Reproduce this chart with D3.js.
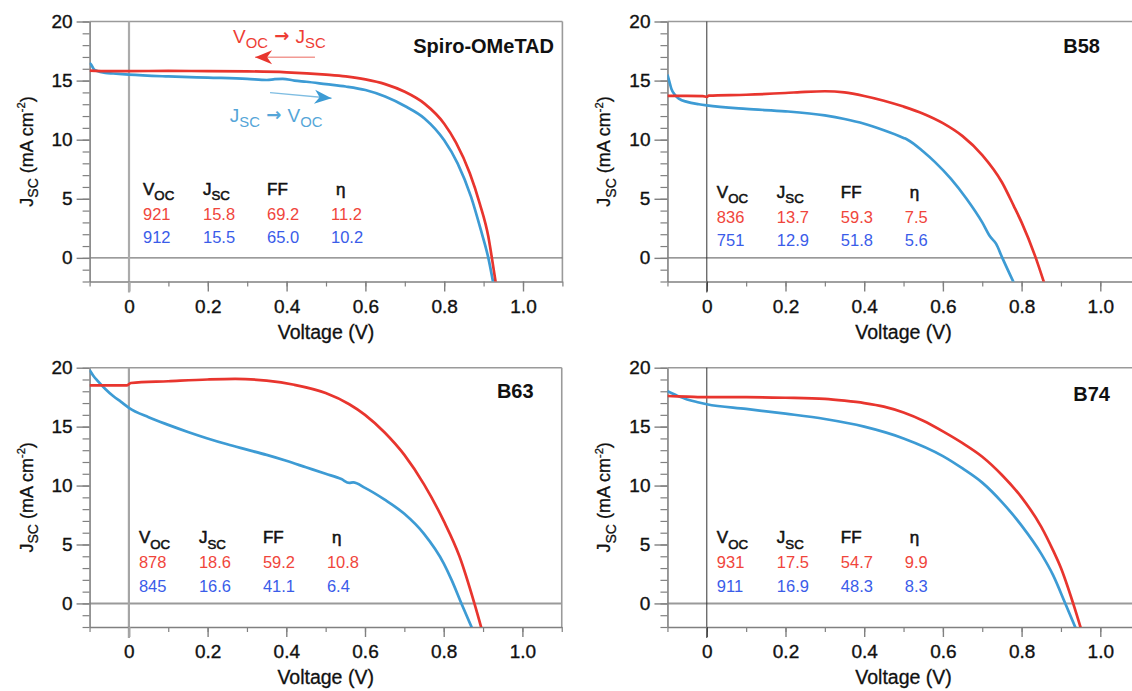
<!DOCTYPE html>
<html>
<head>
<meta charset="utf-8">
<script src="https://cdn.jsdelivr.net/npm/d3@7"></script>
<style>
  html, body { margin: 0; padding: 0; background: #fff; }
  svg { display: block; font-family: "Liberation Sans", Arial, Helvetica, sans-serif; }
  text { white-space: pre; }
</style>
</head>
<body>
<svg id="chart" width="1132" height="691"></svg>
<script>
// J–V sweeps, each point is [voltage (V), current density (mA cm^-2)].
// "reverse" = Voc -> Jsc scan (red), "forward" = Jsc -> Voc scan (blue).
const spiroReverse = [[-0.1,15.85],[-0.05,15.8],[0,15.8],[0.1,15.82],[0.2,15.8],[0.3,15.78],[0.4,15.7],[0.5,15.5],[0.55,15.35],[0.6,15.1],[0.65,14.7],[0.7,14.05],[0.75,13.05],[0.8,11.35],[0.83,9.75],[0.865,7.16],[0.89,4.62],[0.912,1.8],[0.921,0],[0.935,-3]];
const spiroForward = [[-0.1,16.5],[-0.095,16.3],[-0.09,16.0],[-0.08,15.8],[-0.06,15.65],[-0.04,15.6],[0,15.5],[0.1,15.35],[0.2,15.25],[0.3,15.15],[0.35,15.05],[0.37,15.12],[0.39,15.15],[0.42,15.0],[0.45,14.9],[0.5,14.7],[0.55,14.5],[0.6,14.2],[0.65,13.65],[0.7,12.85],[0.75,11.8],[0.8,9.95],[0.834,8.0],[0.868,5.18],[0.893,2.36],[0.912,0],[0.926,-2.4]];

const b58Reverse = [[-0.1,13.7],[-0.05,13.7],[-0.01,13.68],[0,13.62],[0.005,13.72],[0.1,13.8],[0.2,13.95],[0.25,14.05],[0.3,14.1],[0.35,14.0],[0.4,13.7],[0.45,13.3],[0.5,12.8],[0.55,12.2],[0.6,11.4],[0.65,10.3],[0.7,8.7],[0.75,6.4],[0.78,4.4],[0.8,3.0],[0.836,0],[0.862,-2.6]];
const b58Forward = [[-0.1,15.5],[-0.095,14.9],[-0.09,14.3],[-0.08,13.75],[-0.07,13.45],[-0.05,13.2],[-0.02,13.0],[0,12.9],[0.1,12.6],[0.2,12.4],[0.3,12.05],[0.35,11.75],[0.4,11.35],[0.45,10.8],[0.5,10.15],[0.51,10.0],[0.55,9.0],[0.58,8.1],[0.62,6.7],[0.66,5.0],[0.7,3.0],[0.72,1.8],[0.735,1.2],[0.751,0],[0.79,-2.8]];

const b63Reverse = [[-0.1,18.5],[-0.05,18.5],[-0.005,18.5],[0,18.6],[0.005,18.7],[0.1,18.85],[0.2,19.0],[0.27,19.05],[0.35,18.9],[0.42,18.55],[0.5,17.85],[0.56,16.9],[0.6,16.0],[0.65,14.5],[0.7,12.6],[0.75,10.1],[0.8,7.0],[0.84,4.0],[0.878,0],[0.9,-2.6]];
const b63Forward = [[-0.1,19.8],[-0.09,19.3],[-0.08,18.9],[-0.06,18.2],[-0.04,17.6],[-0.02,17.1],[0,16.6],[0.05,15.8],[0.1,15.15],[0.15,14.55],[0.2,14.0],[0.25,13.5],[0.3,13.05],[0.35,12.6],[0.4,12.1],[0.45,11.55],[0.5,11.0],[0.54,10.55],[0.56,10.22],[0.57,10.27],[0.6,9.8],[0.65,8.8],[0.7,7.6],[0.75,5.9],[0.8,3.4],[0.82,2.0],[0.845,0],[0.872,-2.1]];

const b74Reverse = [[-0.1,17.6],[-0.05,17.55],[0,17.5],[0.1,17.5],[0.2,17.45],[0.3,17.35],[0.35,17.2],[0.4,17.0],[0.45,16.7],[0.5,16.2],[0.55,15.5],[0.6,14.6],[0.65,13.6],[0.7,12.45],[0.75,10.9],[0.8,9.0],[0.85,6.5],[0.88,4.5],[0.9,3.0],[0.931,0],[0.955,-2.6]];
const b74Forward = [[-0.1,18.0],[-0.08,17.7],[-0.05,17.3],[-0.02,17.05],[0,16.9],[0.1,16.5],[0.2,16.1],[0.3,15.65],[0.4,15.0],[0.5,14.0],[0.6,12.5],[0.65,11.45],[0.7,10.25],[0.75,8.6],[0.8,6.6],[0.85,4.2],[0.88,2.4],[0.911,0],[0.94,-2.3]];

// Device parameters: Voc (mV), Jsc (mA cm^-2), FF (%), efficiency (%)
const statHeaders = ["V_{OC}", "J_{SC}", "FF", "η"];
const spiroStats = [[921, 15.8, 69.2, 11.2], [912, 15.5, 65.0, 10.2]];
const b58Stats   = [[836, 13.7, 59.3, 7.5],  [751, 12.9, 51.8, 5.6]];
const b63Stats   = [[878, 18.6, 59.2, 10.8], [845, 16.6, 41.1, 6.4]];
const b74Stats   = [[931, 17.5, 54.7, 9.9],  [911, 16.9, 48.3, 8.3]];

const panelNames = ["Spiro-OMeTAD", "B58", "B63", "B74"];

const xTicks = [0, 0.2, 0.4, 0.6, 0.8, 1.0];
const xTickLabels = ["0", "0.2", "0.4", "0.6", "0.8", "1.0"];
const yTicks = [0, 5, 10, 15, 20];
const yTickLabels = ["0", "5", "10", "15", "20"];

// Scan-direction annotations (data coordinates) for the first panel
const scanNotes = [
  { text: "V_{OC}~{ → }J_{SC}", at: [0.264, 18.2], arrowFrom: [0.472, 16.97], arrowTo: [0.32, 16.97], kind: "reverse" },
  { text: "J_{SC}~{ → }V_{OC}", at: [0.256, 11.52], arrowFrom: [0.358, 13.98], arrowTo: [0.514, 13.5], kind: "forward" }
];

const panels = [
  { name: panelNames[0], reverse: spiroReverse, forward: spiroForward, stats: spiroStats, notes: scanNotes },
  { name: panelNames[1], reverse: b58Reverse,   forward: b58Forward,   stats: b58Stats,   notes: [] },
  { name: panelNames[2], reverse: b63Reverse,   forward: b63Forward,   stats: b63Stats,   notes: [] },
  { name: panelNames[3], reverse: b74Reverse,   forward: b74Forward,   stats: b74Stats,   notes: [] }
];

// ---- layout & style ----
const layout = [
  { x0: 129,   kx: 394,   yTop: 21.5,  yBot: 281.5, titleRight: 554,  titleY: 53,  statDx: 4, statDy: -3,
    zeroV: ["#ababab", 2.2], zeroJ: ["#7a7a7a", 1.4] },
  { x0: 706.8, kx: 393.5, yTop: 21.5,  yBot: 281.5, titleRight: 1100, titleY: 53,  statDx: 0, statDy: 0,
    zeroV: ["#333", 1], zeroJ: ["#777", 1.4] },
  { x0: 128.9, kx: 393.5, yTop: 367.7, yBot: 627,   titleRight: 533.6, titleY: 398, statDx: 0, statDy: 0,
    zeroV: ["#a5a5a5", 2.2], zeroJ: ["#9a9a9a", 2] },
  { x0: 706.8, kx: 393.5, yTop: 367.7, yBot: 627,   titleRight: 1110, titleY: 401, statDx: 0, statDy: 0,
    zeroV: ["#333", 1], zeroJ: ["#9a9a9a", 2] }
];
const statCols = [10, 70, 134, 198];
const headerCols = [10, 70, 134, 203];
const statRows = [-60, -35, -11.5];

const RED = "#e8352e", BLUE = "#3d9bd4";
const RED_TXT = "#f0453b", BLUE_TXT = "#3a5ce9";
const AXIS = "#808080";
const INK = "#111";
const fmtV = d3.format("d"), fmt1 = d3.format(".1f");

// text with _{sub}, ^{sup} and ~{raised arrow} segments
function rich(sel, str, size) {
  const parts = str.split(/(_\{[^}]*\}|\^\{[^}]*\}|~\{[^}]*\})/).filter(s => s.length);
  let shift = 0;
  parts.forEach(p => {
    let t = p, dy = 0, fs = null, fw = null;
    if (p.startsWith("_{")) { t = p.slice(2, -1); dy = size * 0.3; fs = size * 0.78; }
    else if (p.startsWith("^{")) { t = p.slice(2, -1); dy = -size * 0.42; fs = size * 0.62; }
    else if (p.startsWith("~{")) { t = p.slice(2, -1); dy = -size * 0.05; fs = size * 0.95; fw = "bold"; }
    const ts = sel.append("tspan").text(t);
    if (dy - shift !== 0) ts.attr("dy", dy - shift);
    if (fs) ts.attr("font-size", fs);
    if (fw) ts.attr("font-weight", fw).attr("font-family", "'DejaVu Sans', sans-serif");
    shift = dy;
  });
}
// slightly heavier strokes for dark labels
function ink(sel, w) {
  return sel.attr("fill", INK).attr("stroke", INK).attr("stroke-width", w).attr("paint-order", "stroke");
}

const svg = d3.select("#chart");
const defs = svg.append("defs");

panels.forEach((p, i) => {
  const L = layout[i];
  const x = d3.scaleLinear().domain([-0.1, 1.1]).range([L.x0 - 0.1 * L.kx, L.x0 + 1.1 * L.kx]);
  const y = d3.scaleLinear().domain([-2, 20]).range([L.yBot, L.yTop]);
  const g = svg.append("g");

  const cid = "plot-clip-" + i;
  defs.append("clipPath").attr("id", cid).append("rect")
    .attr("x", x(-0.1)).attr("y", y(20))
    .attr("width", x(1.1) - x(-0.1)).attr("height", y(-2) - y(20));

  // frame: top and right edges
  g.append("line").attr("x1", x(-0.1)).attr("x2", x(1.1)).attr("y1", y(20)).attr("y2", y(20))
    .attr("stroke", "#9a9a9a").attr("stroke-width", 1.6);
  g.append("line").attr("x1", x(1.1)).attr("x2", x(1.1)).attr("y1", y(20)).attr("y2", y(-2))
    .attr("stroke", "#9a9a9a").attr("stroke-width", 1.6);

  // zero reference lines
  g.append("line").attr("x1", x(-0.1)).attr("x2", x(1.1)).attr("y1", y(0)).attr("y2", y(0))
    .attr("stroke", L.zeroJ[0]).attr("stroke-width", L.zeroJ[1]);
  g.append("line").attr("x1", x(0)).attr("x2", x(0)).attr("y1", y(20)).attr("y2", y(-2) + 11)
    .attr("stroke", L.zeroV[0]).attr("stroke-width", L.zeroV[1]);

  // axes: minor ticks
  const yMinor = d3.axisLeft(y).tickValues(d3.range(-2, 21, 1)).tickSize(7).tickSizeOuter(0).tickFormat("");
  const xMinor = d3.axisBottom(x).tickValues(d3.range(-1, 12, 1).map(d => d / 10)).tickSize(5).tickSizeOuter(0).tickFormat("");
  const ym = g.append("g").attr("transform", `translate(${x(-0.1)},0)`).call(yMinor);
  const xm = g.append("g").attr("transform", `translate(0,${y(-2)})`).call(xMinor);
  [ym, xm].forEach(a => {
    a.select(".domain").attr("stroke", AXIS).attr("stroke-width", 1.6);
    a.selectAll(".tick line").attr("stroke", AXIS).attr("stroke-width", 1.2);
  });

  // axes: major ticks with labels
  const yMajor = d3.axisLeft(y).tickValues(yTicks).tickSize(13).tickSizeOuter(0).tickPadding(4)
    .tickFormat((d, k) => yTickLabels[k]);
  const xMajor = d3.axisBottom(x).tickValues(xTicks).tickSize(10).tickSizeOuter(0).tickPadding(8)
    .tickFormat((d, k) => xTickLabels[k]);
  const yM = g.append("g").attr("transform", `translate(${x(-0.1)},0)`).call(yMajor);
  const xM = g.append("g").attr("transform", `translate(0,${y(-2)})`).call(xMajor);
  [yM, xM].forEach(a => {
    a.select(".domain").remove();
    a.selectAll(".tick line").attr("stroke", AXIS).attr("stroke-width", 1.4);
    ink(a.selectAll(".tick text"), 0.35).attr("font-size", 19)
      .attr("font-family", "'Liberation Sans', Arial, sans-serif");
  });
  // the V = 0 tick follows the zero line's style
  xM.selectAll(".tick line").filter(d => d === 0).attr("stroke", L.zeroV[0]).attr("stroke-width", L.zeroV[1]);

  // axis titles
  const yt = ink(g.append("text"), 0.3)
    .attr("transform", `translate(${x(-0.1) - 57},${(y(20) + y(-2)) / 2}) rotate(-90)`)
    .attr("text-anchor", "middle").attr("font-size", 18);
  rich(yt, "J_{SC} (mA cm^{-2})", 18);
  ink(g.append("text"), 0.3).attr("x", x(0.5)).attr("y", y(-2) + 57).attr("text-anchor", "middle")
    .attr("font-size", 19.5).text("Voltage (V)");

  // J–V curves
  const line = d3.line().x(d => x(d[0])).y(d => y(d[1])).curve(d3.curveMonotoneX);
  const curves = g.append("g").attr("clip-path", `url(#${cid})`);
  curves.append("path").datum(p.forward).attr("d", line).attr("fill", "none")
    .attr("stroke", BLUE).attr("stroke-width", 2.7).attr("stroke-linejoin", "round");
  curves.append("path").datum(p.reverse).attr("d", line).attr("fill", "none")
    .attr("stroke", RED).attr("stroke-width", 2.7).attr("stroke-linejoin", "round");

  // panel title
  g.append("text").attr("x", L.titleRight).attr("y", L.titleY).attr("text-anchor", "end")
    .attr("font-size", 20).attr("font-weight", "bold").attr("fill", INK).text(p.name);

  // parameter table
  const sx = x(0) + L.statDx, sy = y(0) + L.statDy;
  statHeaders.forEach((h, k) => {
    const t = ink(g.append("text"), 0.55).attr("x", sx + headerCols[k]).attr("y", sy + statRows[0])
      .attr("font-size", 17);
    rich(t, h, 17);
  });
  p.stats.forEach((row, r) => {
    row.forEach((v, k) => {
      g.append("text").attr("x", sx + statCols[k]).attr("y", sy + statRows[r + 1])
        .attr("font-size", 16.5).attr("fill", r === 0 ? RED_TXT : BLUE_TXT)
        .text(k === 0 ? fmtV(v) : fmt1(v));
    });
  });

  // scan-direction notes
  p.notes.forEach(n => {
    const col = n.kind === "reverse" ? RED : BLUE;
    const txtCol = n.kind === "reverse" ? "#ee3d35" : "#55a6d8";
    const lineCol = n.kind === "reverse" ? "#f29a94" : "#7fbde2";
    const t = g.append("text").attr("x", x(n.at[0])).attr("y", y(n.at[1]))
      .attr("font-size", 19).attr("fill", txtCol);
    rich(t, n.text, 19);
    const x1 = x(n.arrowFrom[0]), y1 = y(n.arrowFrom[1]);
    const x2 = x(n.arrowTo[0]), y2 = y(n.arrowTo[1]);
    const ang = Math.atan2(y2 - y1, x2 - x1) * 180 / Math.PI;
    g.append("line").attr("x1", x1).attr("y1", y1).attr("x2", x2).attr("y2", y2)
      .attr("stroke", lineCol).attr("stroke-width", 1.4);
    g.append("path").attr("d", "M0,0 L-17,-7 L-12,0 L-17,7 Z")
      .attr("transform", `translate(${x2},${y2}) rotate(${ang})`).attr("fill", col);
  });
});
</script>
</body>
</html>
